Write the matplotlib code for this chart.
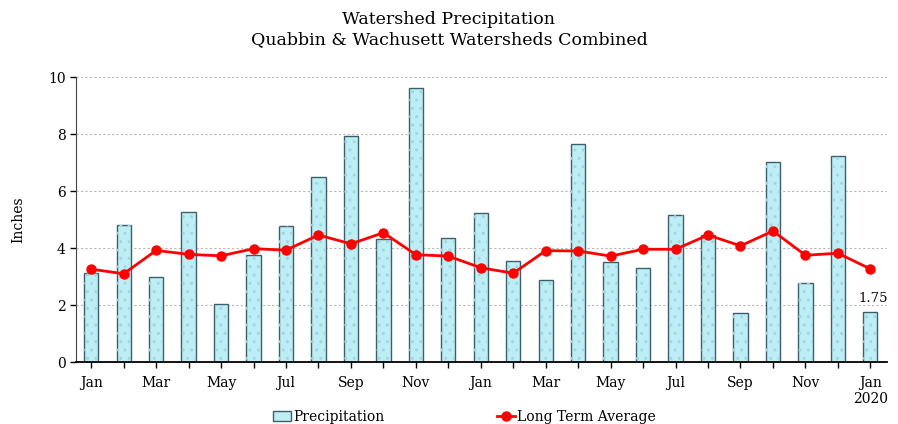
import matplotlib.pyplot as plt
import numpy as np

months = ["Jan", "Feb", "Mar", "Apr", "May", "Jun", "Jul", "Aug", "Sep", "Oct", "Nov", "Dec",
          "Jan", "Feb", "Mar", "Apr", "May", "Jun", "Jul", "Aug", "Sep", "Oct", "Nov", "Dec",
          "Jan\n2020"]
precip = [3.12, 4.80, 2.98, 5.27, 2.05, 3.75, 4.76, 6.48, 7.95, 4.31, 9.62, 4.34,
          5.25, 3.54, 2.87, 7.67, 3.50, 3.29, 5.15, 4.46, 1.72, 7.04, 2.77, 7.25,
          1.75]
long_term = [3.26, 3.10, 3.92, 3.78, 3.73, 3.98, 3.93, 4.46, 4.15, 4.54, 3.77, 3.72,
             3.31, 3.12, 3.91, 3.90, 3.72, 3.96, 3.96, 4.46, 4.08, 4.60, 3.75, 3.82,
             3.27]
y_ticks = [0, 2, 4, 6, 8, 10]

plt.rcParams['font.family'] = ['DejaVu Serif']

fig = plt.figure(figsize=(8.98, 4.24), dpi=100)
ax = fig.add_axes([0.0846, 0.146, 0.9034, 0.672])

x = np.arange(len(precip))

# Balken mit leichter Textur
ax.bar(x, precip, width=0.44, color='#bdeef5', edgecolor='#3d5f6b', linewidth=1.0,
       label='Precipitation', zorder=2)
ax.bar(x, precip, width=0.44, color='none', edgecolor='#9fd6e0', linewidth=0,
       hatch='..', zorder=2)

# Langjaehriges Mittel
ax.plot(x, long_term, color='#ff0000', lw=2, marker='o', markersize=6.5,
        label='Long Term Average', zorder=3)

# letzter Wert
ax.text(x[-1] + 0.1, precip[-1] + 0.25, f"{precip[-1]:.2f}", ha='center', va='bottom', fontsize=9.5)

ax.set_xlim(-0.47, len(precip) - 0.48)
ax.set_ylim(0, 10)
ax.set_yticks(y_ticks)
ax.set_yticklabels([str(v) for v in y_ticks], fontsize=10)
ax.set_xticks(x)
ax.set_xticklabels([m if i % 2 == 0 else "" for i, m in enumerate(months)], fontsize=10)
ax.tick_params(axis='x', length=4, direction='out', width=1, pad=6)
ax.tick_params(axis='y', length=4, direction='out', width=1)

ax.yaxis.grid(True, linestyle=(0, (2, 2)), color='#b8b8b8', lw=0.8, zorder=0)
ax.set_axisbelow(True)
for s in ['top', 'right']:
    ax.spines[s].set_visible(False)
ax.spines['left'].set_color('#444444')
ax.spines['bottom'].set_linewidth(1.3)

ax.set_ylabel("Inches", fontsize=10, labelpad=16)

fig.suptitle("Watershed Precipitation\nQuabbin & Wachusett Watersheds Combined",
             fontsize=12.5, y=0.975, linespacing=1.3)

handles, labels = ax.get_legend_handles_labels()
order = [labels.index('Precipitation'), labels.index('Long Term Average')]
fig.legend([handles[i] for i in order], [labels[i] for i in order],
           loc='lower center', bbox_to_anchor=(0.517, -0.03), ncol=2, frameon=False,
           fontsize=10, columnspacing=8.1, handlelength=1.3, handletextpad=0.15)

fig.savefig("out.png", dpi=100)
